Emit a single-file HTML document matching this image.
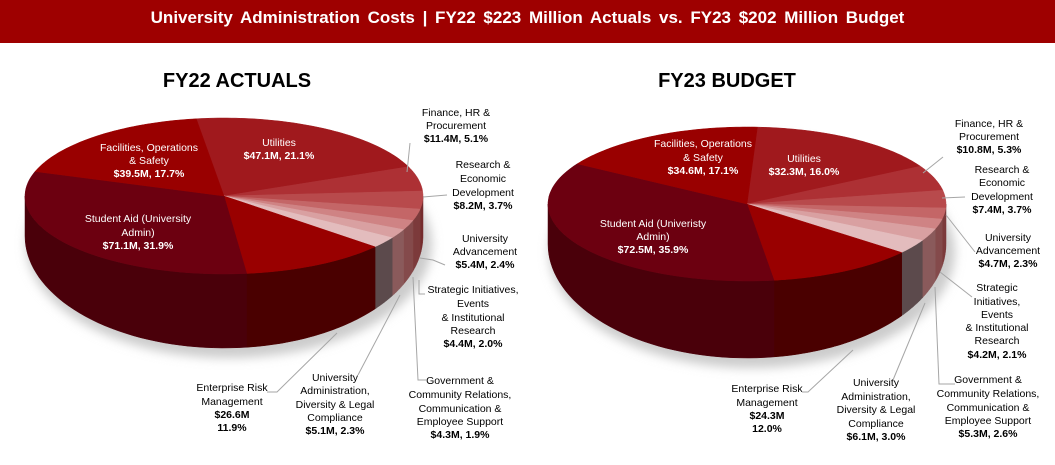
<!DOCTYPE html>
<html><head><meta charset="utf-8"><style>
body{margin:0;width:1055px;height:465px;background:#fff;overflow:hidden;font-family:"Liberation Sans",sans-serif}
#title{position:absolute;left:0;top:0;width:1055px;height:43px;background:#9e0000;color:#fff;font-weight:bold;font-size:17px;text-align:center;line-height:36px;word-spacing:3px}
svg{position:absolute;left:0;top:0}
</style></head><body>
<div id="title">University Administration Costs | FY22 $223 Million Actuals vs. FY23 $202 Million Budget</div>
<svg id="s" width="1055" height="465">
<defs><filter id="bl"><feGaussianBlur stdDeviation="5"/></filter></defs>
<text x="237" y="87" text-anchor="middle" font-size="20" font-weight="bold" fill="#000">FY22 ACTUALS</text>
<text x="727" y="87" text-anchor="middle" font-size="20" font-weight="bold" fill="#000">FY23 BUDGET</text>
</svg>
<script>
const categories=["Utilities","Finance, HR & Procurement","Research & Economic Development","University Advancement","Strategic Initiatives, Events & Institutional Research","Government & Community Relations","University Administration, Diversity & Legal","Enterprise Risk Management","Student Aid","Facilities, Operations & Safety"];
const fy22Values=[21.1,5.1,3.7,2.4,2.0,1.9,2.3,11.9,31.9,17.7];
const fy23Values=[16.0,5.3,3.7,2.3,2.1,2.6,3.0,12.0,35.9,17.1];
const topColors=["#a0191d","#ad3034","#b84a4c","#c46667","#cf8384","#d9a0a1","#e3bcbd","#990000","#6c0010","#990000"];
const sideColors=["#6a0c10","#6e1c1e","#752b2c","#7c3a3b","#844a4b","#8a5a5b","#5c4a4c","#4a0000","#4a000a","#5a0000"];
const svg=document.getElementById('s');
const NS="http://www.w3.org/2000/svg";
function mk(t,a){const e=document.createElementNS(NS,t);for(const k in a)e.setAttribute(k,a[k]);return e;}
function drawPie(vals,cx,cy,rx,ry,dy,ryb,start,name){
  const sh=mk('ellipse',{cx:cx+5,cy:cy+dy+8,rx:rx+4,ry:ryb+2,fill:'#ccc',filter:'url(#bl)'});
  svg.appendChild(sh);
  const tot=vals.reduce((a,b)=>a+b,0);
  const top=(a)=>[cx+rx*Math.sin(a),cy-ry*Math.cos(a)];
  const bot=(a)=>[cx+rx*Math.sin(a),cy+dy-ryb*Math.cos(a)];
  let acc=0;const segs=[];
  vals.forEach((v,i)=>{const a0=(start+acc/tot*360)*Math.PI/180;acc+=v;const a1=(start+acc/tot*360)*Math.PI/180;segs.push([a0,a1,i]);});
  const g=mk('g',{});svg.appendChild(g);
  segs.forEach(([a0,a1,i])=>{
    const s0=Math.max(a0,Math.PI/2),s1=Math.min(a1,Math.PI*1.5);
    if(s1<=s0)return;
    let pts=[];const n=40;
    for(let k=0;k<=n;k++){pts.push(top(s0+(s1-s0)*k/n));}
    for(let k=n;k>=0;k--){pts.push(bot(s0+(s1-s0)*k/n));}
    const p=mk('polygon',{points:pts.map(q=>q[0].toFixed(1)+','+q[1].toFixed(1)).join(' '),fill:sideColors[i],stroke:sideColors[i],'stroke-width':0.5});
    g.appendChild(p);
  });
  segs.forEach(([a0,a1,i])=>{
    let pts=[[cx,cy]];const n=60;
    for(let k=0;k<=n;k++)pts.push(top(a0+(a1-a0)*k/n));
    const p=mk('polygon',{points:pts.map(q=>q[0].toFixed(1)+','+q[1].toFixed(1)).join(' '),fill:topColors[i],stroke:topColors[i],'stroke-width':0.5});
    g.appendChild(p);
  });
}
drawPie(fy22Values,224,196,199,78,40,112,-8,'fy22');
drawPie(fy23Values,747,204,199,77,40,114,3,'fy23');
const labels=[
 [149,[147,160,173],["Facilities, Operations","& Safety","$39.5M, 17.7%"],"#fff",2],
 [279,[142,155],["Utilities","$47.1M, 21.1%"],"#fff",1],
 [138,[218,232,245],["Student Aid (University","Admin)","$71.1M, 31.9%"],"#fff",2],
 [456,[112,125,138],["Finance, HR &","Procurement","$11.4M, 5.1%"],"#000",2],
 [483,[164,178,192,205],["Research &","Economic","Development","$8.2M, 3.7%"],"#000",3],
 [485,[238,251,264],["University","Advancement","$5.4M, 2.4%"],"#000",2],
 [473,[289,303,317,330,343],["Strategic Initiatives,","Events","& Institutional","Research","$4.4M, 2.0%"],"#000",4],
 [460,[380,394,408,421,434],["Government &","Community Relations,","Communication &","Employee Support","$4.3M, 1.9%"],"#000",4],
 [335,[377,390,404,417,430],["University","Administration,","Diversity & Legal","Compliance","$5.1M, 2.3%"],"#000",4],
 [232,[387,401,414,427],["Enterprise Risk","Management","$26.6M","11.9%"],"#000",2],
 [703,[143,157,170],["Facilities, Operations","& Safety","$34.6M, 17.1%"],"#fff",2],
 [804,[158,171],["Utilities","$32.3M, 16.0%"],"#fff",1],
 [653,[223,236,249],["Student Aid (Univeristy","Admin)","$72.5M, 35.9%"],"#fff",2],
 [989,[123,136,149],["Finance, HR &","Procurement","$10.8M, 5.3%"],"#000",2],
 [1002,[169,182,196,209],["Research &","Economic","Development","$7.4M, 3.7%"],"#000",3],
 [1008,[237,250,263],["University","Advancement","$4.7M, 2.3%"],"#000",2],
 [997,[287,301,314,327,340,354],["Strategic","Initiatives,","Events","& Institutional","Research","$4.2M, 2.1%"],"#000",5],
 [988,[379,393,407,420,433],["Government &","Community Relations,","Communication &","Employee Support","$5.3M, 2.6%"],"#000",4],
 [876,[382,396,409,423,436],["University","Administration,","Diversity & Legal","Compliance","$6.1M, 3.0%"],"#000",4],
 [767,[388,402,415,428],["Enterprise Risk","Management","$24.3M","12.0%"],"#000",2]
];
labels.forEach((L,j)=>{
  const t=mk('text',{x:L[0],'text-anchor':'middle','font-size':'10.5',fill:L[3]});
  
  L[2].forEach((s,k)=>{const ts=mk('tspan',{x:L[0],y:L[1][k]+4});if(k>=L[4])ts.setAttribute('font-weight','bold');ts.textContent=s;t.appendChild(ts);});
  svg.appendChild(t);
});
const leaders=[
 "410,143 407,172","447,195 423,197","445,265 433,260 420,258","425,294 419,294 419,280","427,380 418,380 413,277","358,375 400,295","267,392 277,392 337,333",
 "943,157 923,173","965,197 942,198","975,252 946,215","972,297 940,272","955,384 939,384 935,287","893,380 925,303","802,392 808,392 853,350"];
leaders.forEach((p,j)=>{const l=mk('polyline',{points:p,fill:'none',stroke:'#a6a6a6','stroke-width':1});
 svg.appendChild(l);});
</script>
</body></html>
